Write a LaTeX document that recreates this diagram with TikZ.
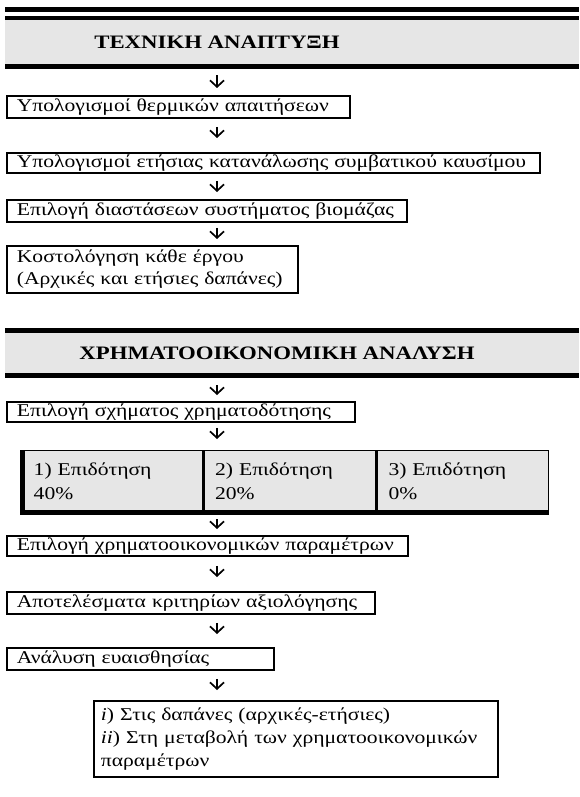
\documentclass[tikz,border=0pt]{standalone}
\usepackage{fontspec}
\setmainfont{Liberation Serif}[FakeStretch=1.2]
\usetikzlibrary{arrows.meta, positioning}
\definecolor{bandgray}{RGB}{230,230,230}

\begin{document}
\begin{tikzpicture}[
    x=1pt, y=-1pt,
    box/.style={rectangle, draw, line width=1.8pt, anchor=north west, align=left, inner xsep=10pt, inner ysep=0pt, text width=#1, font=\fontsize{18}{22}\selectfont},
    cell/.style={rectangle, draw, fill=bandgray, line width=1.4pt, anchor=north west, align=left, inner xsep=11pt, inner ysep=0pt, minimum height=61pt, text width=#1, font=\fontsize{18}{24}\selectfont},
    band/.style={rectangle, fill=bandgray, anchor=north west, minimum width=574pt, inner sep=0pt},
    head/.style={font=\bfseries\fontsize{19}{22}\selectfont, inner sep=0pt},
    arrow/.style={-{Straight Barb[length=6.5pt,width=14pt]}, line width=1.7pt}
]
\useasboundingbox (0,0) rectangle (579,797);
\coordinate (ax) at (217,0);

% technical part
\fill (5,7) rectangle (579,12);
\fill (5,16) rectangle (579,20);
\node[band, minimum height=44pt] (band1) at (5,20) {};
\fill (band1.south west) rectangle ++(574,5);
\node[head] (hd1) at (217,42) {ΤΕΧΝΙΚΗ ΑΝΑΠΤΥΞΗ};

\node[box=323pt, minimum height=22pt] (b1) at (6,95) {Υπολογισμοί θερμικών απαιτήσεων};
\node[box=513pt, minimum height=20pt] (b2) at (6,152) {Υπολογισμοί ετήσιας κατανάλωσης συμβατικού καυσίμου};
\node[box=380pt, minimum height=22pt] (b3) at (6,199) {Επιλογή διαστάσεων συστήματος βιομάζας};
\node[box=271pt, minimum height=47pt] (b4) at (6,245) {Κοστολόγηση κάθε έργου\\(Αρχικές και ετήσιες δαπάνες)};

% financial part
\node[band, minimum height=40pt] (band2) at (5,333) {};
\fill (band2.north west) rectangle ++(574,-5);
\fill (band2.south west) rectangle ++(574,5);
\node[head] (hd2) at (277,353) {ΧΡΗΜΑΤΟΟΙΚΟΝΟΜΙΚΗ ΑΝΑΛΥΣΗ};

\node[box=328pt, minimum height=20pt] (b5) at (6,401) {Επιλογή σχήματος χρηματοδότησης};
\node[cell=158pt] (c1) at (22,450) {1) Επιδότηση\\40\%};
\node[cell=150pt] (c2) at (c1.north east) {2) Επιδότηση\\20\%};
\node[cell=149pt] (c3) at (c2.north east) {3) Επιδότηση\\0\%};
\draw[line width=5pt] (c1.north west) -- (c1.south west) -- (c3.south east);
\node[box=381pt, minimum height=20pt] (b6) at (6,535) {Επιλογή χρηματοοικονομικών παραμέτρων};
\node[box=348pt, minimum height=22pt] (b7) at (6,591) {Αποτελέσματα κριτηρίων αξιολόγησης};
\node[box=247pt, minimum height=22pt] (b8) at (6,647) {Ανάλυση ευαισθησίας};
\node[box=390pt, inner xsep=7pt, minimum height=76pt, font=\fontsize{18}{23}\selectfont] (b9) at (93,700) {\textit{i}) Στις δαπάνες (αρχικές-ετήσιες)\\\textit{ii}) Στη μεταβολή των χρηματοοικονομικών\\παραμέτρων};

\draw[arrow, shorten <=6pt, shorten >=7pt] (band1.south -| ax) ++(0,5) -- (b1.north -| ax);
\draw[arrow, shorten <=8pt, shorten >=14pt] (b1.south -| ax) -- (b2.north -| ax);
\draw[arrow, shorten <=7pt, shorten >=7pt] (b2.south -| ax) -- (b3.north -| ax);
\draw[arrow, shorten <=5pt, shorten >=6pt] (b3.south -| ax) -- (b4.north -| ax);
\draw[arrow, shorten <=12pt, shorten >=6pt] (band2.south -| ax) -- (b5.north -| ax);
\draw[arrow, shorten <=5pt, shorten >=11pt] (b5.south -| ax) -- (c2.north -| ax);
\draw[arrow, shorten <=7pt, shorten >=6pt] (c2.south -| ax) -- (b6.north -| ax);
\draw[arrow, shorten <=9pt, shorten >=14pt] (b6.south -| ax) -- (b7.north -| ax);
\draw[arrow, shorten <=8pt, shorten >=13pt] (b7.south -| ax) -- (b8.north -| ax);
\draw[arrow, shorten <=8pt, shorten >=10pt] (b8.south -| ax) -- (b9.north -| ax);
\end{tikzpicture}
\end{document}
